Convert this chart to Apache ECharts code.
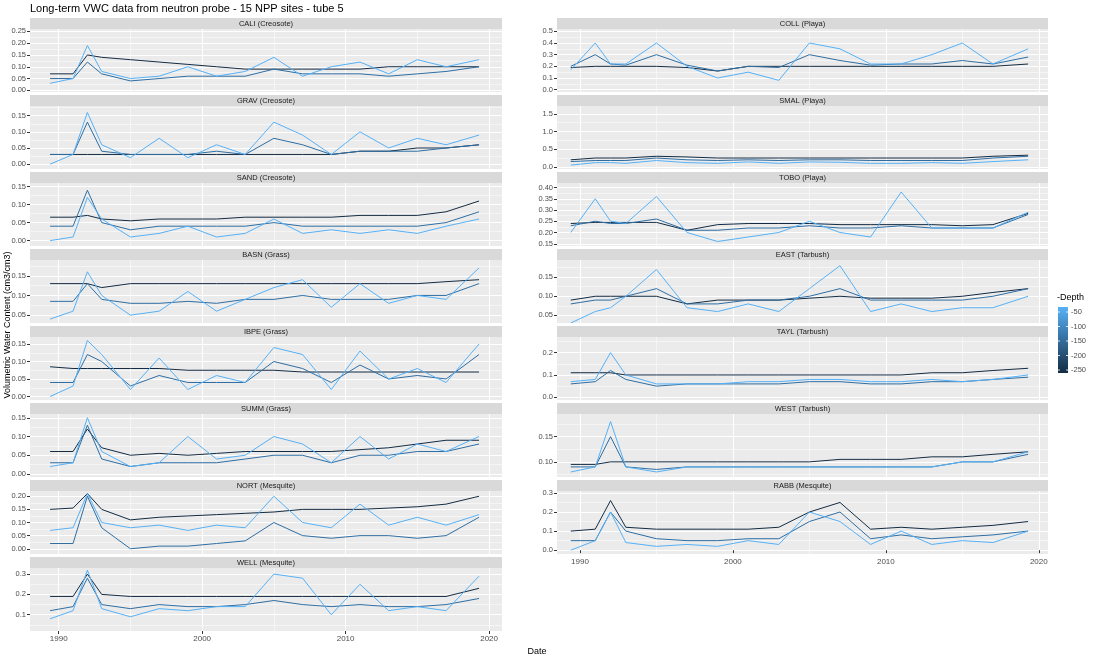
<!DOCTYPE html>
<html><head><meta charset="utf-8">
<script src="https://cdn.jsdelivr.net/npm/echarts@6/dist/echarts.min.js"></script>
<style>html,body{margin:0;background:#fff}#c{width:1100px;height:660px}</style>
</head><body><div id="c"></div>
<script>
const years = [1989.4,1991,1992,1993,1995,1997,1999,2001,2003,2005,2007,2009,2011,2013,2015,2017,2019.3];
const sites = ["CALI (Creosote)","GRAV (Creosote)","SAND (Creosote)","BASN (Grass)","IBPE (Grass)","SUMM (Grass)","NORT (Mesquite)","WELL (Mesquite)",
"COLL (Playa)","SMAL (Playa)","TOBO (Playa)","EAST (Tarbush)","TAYL (Tarbush)","WEST (Tarbush)","RABB (Mesquite)"];
const depthLabels = ["-50","-100","-150","-200","-250"];
// values per site: [shallow, mid, deep]
const CALI = [[.03,.05,.19,.08,.05,.06,.10,.06,.08,.14,.06,.10,.12,.07,.13,.10,.13],[.05,.05,.12,.07,.04,.05,.06,.06,.06,.09,.07,.07,.07,.06,.07,.08,.10],[.07,.07,.15,.14,.13,.12,.11,.10,.09,.09,.09,.09,.09,.10,.10,.10,.10]];
const GRAV = [[.00,.03,.16,.06,.02,.08,.02,.06,.03,.13,.09,.03,.10,.05,.08,.06,.09],[.03,.03,.13,.04,.03,.03,.03,.04,.03,.08,.06,.03,.04,.04,.04,.05,.06],[.03,.03,.03,.03,.03,.03,.03,.03,.03,.03,.03,.03,.04,.04,.05,.05,.06]];
const SAND = [[.00,.01,.12,.06,.01,.02,.04,.01,.02,.06,.02,.03,.02,.03,.02,.04,.06],[.04,.04,.14,.05,.03,.04,.04,.04,.04,.05,.04,.04,.04,.04,.04,.05,.08],[.065,.065,.07,.06,.055,.06,.06,.06,.065,.065,.065,.065,.07,.07,.07,.08,.11]];
const BASN = [[.04,.06,.16,.10,.05,.06,.11,.06,.09,.12,.14,.07,.13,.08,.10,.09,.17],[.085,.085,.13,.09,.08,.08,.085,.08,.09,.09,.10,.09,.09,.09,.10,.10,.13],[.13,.13,.13,.12,.13,.13,.13,.13,.13,.13,.13,.13,.13,.13,.13,.135,.14]];
const IBPE = [[.00,.03,.16,.12,.02,.11,.02,.06,.04,.14,.12,.02,.13,.05,.08,.04,.15],[.04,.04,.12,.10,.03,.06,.04,.04,.04,.10,.08,.04,.09,.05,.06,.05,.12],[.085,.08,.08,.08,.08,.08,.075,.075,.075,.075,.07,.07,.07,.07,.07,.07,.07]];
const SUMM = [[.02,.03,.15,.06,.02,.03,.10,.04,.05,.10,.08,.03,.10,.04,.08,.06,.10],[.03,.03,.13,.04,.02,.03,.03,.03,.04,.05,.05,.03,.05,.05,.06,.06,.08],[.06,.06,.12,.07,.05,.055,.05,.055,.06,.06,.06,.06,.065,.07,.08,.09,.09]];
const NORT = [[.07,.08,.21,.10,.08,.09,.07,.09,.08,.20,.10,.08,.17,.09,.12,.09,.13],[.02,.02,.20,.08,.00,.01,.01,.02,.03,.10,.05,.04,.05,.05,.04,.05,.12],[.15,.155,.21,.15,.11,.12,.125,.13,.135,.14,.15,.15,.15,.155,.16,.17,.20]];
const WELL = [[.08,.12,.32,.13,.09,.13,.12,.14,.14,.30,.28,.10,.25,.12,.14,.12,.29],[.12,.14,.28,.15,.13,.15,.14,.14,.15,.17,.15,.14,.15,.14,.14,.15,.18],[.19,.19,.30,.20,.19,.19,.19,.19,.19,.19,.19,.19,.19,.19,.19,.19,.23]];
const COLL = [[.17,.40,.22,.22,.40,.20,.10,.15,.08,.40,.35,.22,.22,.30,.40,.22,.35],[.20,.30,.22,.21,.30,.21,.16,.20,.19,.30,.25,.21,.22,.22,.25,.22,.28],[.19,.20,.20,.20,.20,.19,.16,.20,.20,.20,.20,.20,.20,.20,.20,.20,.22]];
const SMAL = [[.05,.12,.12,.10,.18,.12,.10,.14,.10,.14,.13,.10,.10,.12,.10,.15,.20],[.15,.18,.18,.18,.25,.20,.18,.20,.18,.20,.20,.18,.18,.18,.18,.25,.30],[.20,.25,.25,.25,.30,.28,.25,.25,.25,.25,.25,.25,.25,.25,.25,.30,.33]];
const TOBO = [[.20,.35,.25,.24,.36,.20,.16,.18,.20,.25,.20,.18,.38,.22,.22,.22,.29],[.23,.25,.24,.24,.26,.21,.21,.22,.22,.23,.22,.22,.23,.22,.22,.22,.28],[.24,.245,.245,.245,.245,.21,.235,.24,.24,.24,.235,.235,.235,.235,.23,.235,.285]];
const EAST = [[.03,.06,.07,.10,.17,.07,.06,.08,.06,.12,.18,.06,.08,.06,.07,.07,.10],[.08,.09,.09,.10,.12,.08,.08,.09,.09,.10,.12,.09,.09,.09,.09,.10,.12],[.09,.10,.10,.10,.10,.08,.09,.09,.09,.095,.10,.095,.095,.095,.10,.11,.12]];
const TAYL = [[.07,.08,.20,.10,.06,.06,.06,.07,.07,.08,.08,.07,.07,.08,.07,.08,.10],[.06,.07,.12,.08,.05,.06,.06,.06,.06,.07,.07,.06,.06,.07,.07,.08,.09],[.11,.11,.11,.10,.10,.10,.10,.10,.10,.10,.10,.10,.10,.11,.11,.12,.13]];
const WEST = [[.08,.09,.18,.09,.08,.09,.09,.09,.09,.09,.09,.09,.09,.09,.10,.10,.12],[.09,.09,.15,.09,.085,.09,.09,.09,.09,.09,.09,.09,.09,.09,.10,.10,.115],[.095,.095,.10,.10,.10,.10,.10,.10,.10,.10,.105,.105,.105,.11,.11,.115,.12]];
const RABB = [[.00,.05,.20,.04,.02,.03,.02,.05,.03,.20,.15,.03,.10,.03,.05,.04,.10],[.05,.05,.20,.10,.06,.05,.05,.06,.06,.15,.20,.06,.08,.06,.07,.08,.10],[.10,.11,.26,.12,.11,.11,.11,.11,.12,.20,.25,.11,.12,.11,.12,.13,.15]];
const siteData = [CALI,GRAV,SAND,BASN,IBPE,SUMM,NORT,WELL,COLL,SMAL,TOBO,EAST,TAYL,WEST,RABB];
const yRange = [[-0.007,0.26],[-0.015,0.18],[-0.015,0.16],[0.03,0.19],[-0.01,0.17],[-0.008,0.16],[-0.02,0.22],[0.02,0.33],
[-0.02,0.52],[-0.06,1.72],[0.14,0.42],[0.03,0.195],[-0.012,0.27],[0.07,0.195],[-0.02,0.31]];
const yTicks = [[0,.05,.10,.15,.20,.25],[0,.05,.10,.15],[0,.05,.10,.15],[.05,.10,.15],[0,.05,.10,.15],[0,.05,.10,.15],[0,.05,.10,.15,.20],[.1,.2,.3],
[0,.1,.2,.3,.4,.5],[0,.5,1,1.5],[.15,.20,.25,.30,.35,.40],[.05,.10,.15],[0,.1,.2],[.10,.15],[0,.1,.2,.3]];
const xTicks = [1990,2000,2010,2020];
const xMinor = [1995,2005,2015];
const colors = ['#56B1F7','#2f6ea3','#132B43'];

const grids=[],xAxes=[],yAxes=[],series=[],graphics=[];
const font='Liberation Sans, Arial, sans-serif';
siteData.forEach((sd,i)=>{
  const col = i<8?0:1, row = i<8?i:i-8;
  const left = col?557:30, width = col?491:472;
  const stripTop = 18+77*row;
  const top = stripTop+11, height = 63;
  const xmin = col?1988.5:1988.0, xmax = col?2020.6:2020.9;
  grids.push({left,top,width,height,show:true,backgroundColor:'#EBEBEB',borderWidth:0});
  graphics.push({type:'rect',shape:{x:left,y:stripTop,width,height:11},style:{fill:'#D9D9D9'}});
  graphics.push({type:'text',x:left+width/2,y:stripTop+5.5,style:{text:sites[i],fill:'#1A1A1A',font:'7.5px '+font,align:'center',verticalAlign:'middle'}});
  const bottom = (i===7||i===14);
  const step=yTicks[i][1]-yTicks[i][0];
  const dec = step>=0.1?1:2;
  const minors=[]; const t=yTicks[i];
  for(let k=-1;k<t.length;k++){const v=(k<0?t[0]-step/2:t[k]+step/2); if(v>yRange[i][0]&&v<yRange[i][1]) minors.push(+v.toFixed(4));}
  const g=i;
  xAxes.push({gridIndex:g,type:'value',min:xmin,max:xmax,axisLine:{show:false},
    axisTick:{show:bottom,length:3,lineStyle:{color:'#333'},customValues:xTicks},
    axisLabel:{show:bottom,customValues:xTicks,color:'#4D4D4D',fontSize:8,fontFamily:font,margin:4,formatter:v=>String(v)},
    splitLine:{show:true,lineStyle:{color:'#fff',width:1.1}}});
  xAxes.push({gridIndex:g,type:'value',min:xmin,max:xmax,axisLine:{show:false},axisTick:{show:false,customValues:xMinor},
    axisLabel:{show:false,customValues:xMinor},splitLine:{show:true,lineStyle:{color:'#fff',width:0.5}}});
  yAxes.push({gridIndex:g,type:'value',min:yRange[i][0],max:yRange[i][1],axisLine:{show:false},
    axisTick:{show:true,length:3,lineStyle:{color:'#333'},customValues:yTicks[i]},
    axisLabel:{customValues:yTicks[i],color:'#4D4D4D',fontSize:7.5,fontFamily:font,margin:4,formatter:v=>v.toFixed(dec)},
    splitLine:{show:true,lineStyle:{color:'#fff',width:1.1}}});
  yAxes.push({gridIndex:g,type:'value',min:yRange[i][0],max:yRange[i][1],axisLine:{show:false},axisTick:{show:false,customValues:minors},
    axisLabel:{show:false,customValues:minors},splitLine:{show:true,lineStyle:{color:'#fff',width:0.5}}});
  [2,1,0].forEach(d=>{
    series.push({type:'line',xAxisIndex:2*g,yAxisIndex:2*g,data:years.map((y,k)=>[y,sd[d][k]]),
      symbol:'none',silent:true,lineStyle:{color:colors[d],width:1},z:3-d});
  });
});
graphics.push({type:'text',x:30,y:3,style:{text:'Long-term VWC data from neutron probe - 15 NPP sites - tube 5',fill:'#000',font:'11px '+font}});
graphics.push({type:'text',x:537,y:652,style:{text:'Date',fill:'#000',font:'9px '+font,align:'center',verticalAlign:'middle'}});
graphics.push({type:'text',x:8,y:325,rotation:Math.PI/2,style:{text:'Volumetric Water Content (cm3/cm3)',fill:'#000',font:'9px '+font,align:'center',verticalAlign:'middle'}});
graphics.push({type:'text',x:1057,y:298,style:{text:'-Depth',fill:'#000',font:'9px '+font,verticalAlign:'middle'}});
graphics.push({type:'rect',shape:{x:1058,y:307,width:10,height:66},style:{fill:new echarts.graphic.LinearGradient(0,0,0,1,[{offset:0,color:'#56B1F7'},{offset:1,color:'#132B43'}])}});
depthLabels.forEach((t,k)=>{
  const y=312+k*14.5;
  graphics.push({type:'text',x:1071,y,style:{text:t,fill:'#4D4D4D',font:'7.5px '+font,verticalAlign:'middle'}});
  graphics.push({type:'line',shape:{x1:1058,y1:y,x2:1060,y2:y},style:{stroke:'#fff',lineWidth:0.8}});
  graphics.push({type:'line',shape:{x1:1066,y1:y,x2:1068,y2:y},style:{stroke:'#fff',lineWidth:0.8}});
});
const chart=echarts.init(document.getElementById('c'));
chart.setOption({animation:false,grid:grids,xAxis:xAxes,yAxis:yAxes,series,graphic:graphics});
</script></body></html>
